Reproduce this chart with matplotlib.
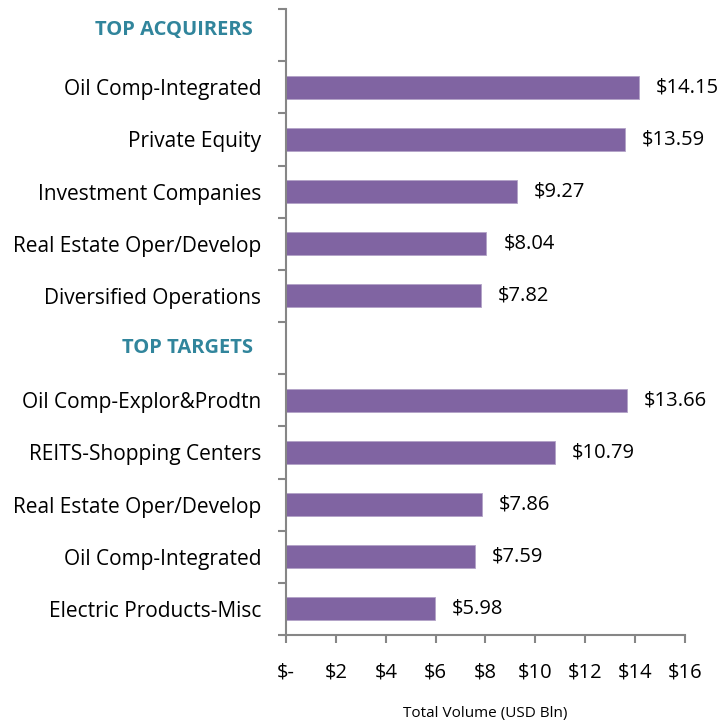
import matplotlib
matplotlib.use("Agg")
import matplotlib.pyplot as plt
import matplotlib.transforms as mtransforms
import numpy as np

plt.rcParams['font.family'] = ['Open Sans', 'DejaVu Sans']

# rows top to bottom; None marks a section header
labels = ["TOP ACQUIRERS", "Oil Comp-Integrated", "Private Equity", "Investment Companies",
          "Real Estate Oper/Develop", "Diversified Operations",
          "TOP TARGETS", "Oil Comp-Explor&Prodtn", "REITS-Shopping Centers",
          "Real Estate Oper/Develop", "Oil Comp-Integrated", "Electric Products-Misc"]
values = [None, 14.15, 13.59, 9.27, 8.04, 7.82,
          None, 13.66, 10.79, 7.86, 7.59, 5.98]
xticks = [0, 2, 4, 6, 8, 10, 12, 14, 16]
xtick_labels = ["$-", "$2", "$4", "$6", "$8", "$10", "$12", "$14", "$16"]

bar_color = "#8064A2"
head_color = "#31859C"
axis_color = "#868686"

fig = plt.figure(figsize=(7.23, 7.22), dpi=100)
ax = fig.add_axes([0.3956, 0.1205, 0.9474 - 0.3956, 0.9875 - 0.1205])

y = np.arange(len(labels))
for i, v in enumerate(values):
    if v is None:
        continue
    ax.barh(i, v, height=0.44, color=bar_color, edgecolor="#B3A2C7", linewidth=0.6)
    ax.text(v + 0.68, i, "$%.2f" % v, va="center", ha="left", fontsize=14.5, color="black")

ax.set_ylim(len(labels) - 0.5, -0.5)
ax.set_xlim(0, 16)
ax.set_yticks(y)
ax.set_yticklabels([l if v is not None else "" for l, v in zip(labels, values)], fontsize=15)
ax.set_yticks(np.arange(-0.5, len(labels), 1.0), minor=True)
ax.tick_params(axis="y", which="major", length=0, pad=18)
ax.tick_params(axis="y", which="minor", length=6, color=axis_color, width=1.5)

# section headers drawn as text left of the axis
trans = mtransforms.blended_transform_factory(ax.transAxes, ax.transData)
for i, (l, v) in enumerate(zip(labels, values)):
    if v is None:
        yy = i - 0.1 if i == 0 else i
        ax.text(-0.083, yy, l, transform=trans, ha="right", va="center",
                fontsize=14.5, fontweight="bold", color=head_color)

ax.set_xticks(xticks)
ax.set_xticklabels(xtick_labels, fontsize=14.5)
ax.tick_params(axis="x", length=6, color=axis_color, width=1.5, pad=14)
ax.set_xlabel("Total Volume (USD Bln)", fontsize=11, labelpad=17)

for s in ["top", "right"]:
    ax.spines[s].set_visible(False)
for s in ["left", "bottom"]:
    ax.spines[s].set_color(axis_color)
    ax.spines[s].set_linewidth(1.5)

fig.savefig("out.png", dpi=100)
